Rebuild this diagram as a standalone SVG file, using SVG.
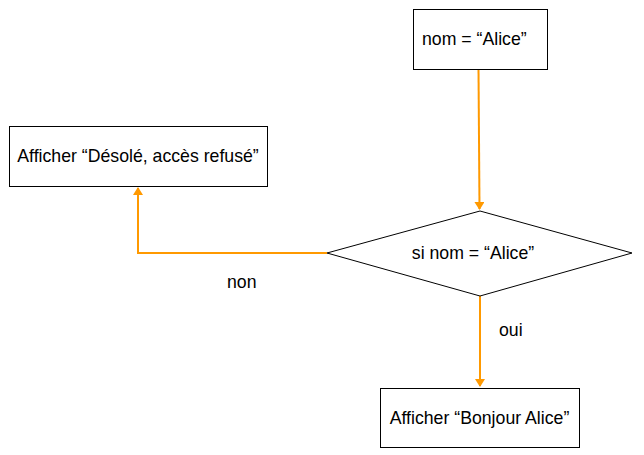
<svg xmlns="http://www.w3.org/2000/svg" width="644" height="455" viewBox="0 0 644 455">
<style>
.box{fill:#fff;stroke:#000;stroke-width:1}
.t{font-family:"Liberation Sans",Arial,sans-serif;font-size:17.7px;fill:#000}
.c{fill:none;stroke:#FF9900;stroke-width:2}
</style>
<defs>
<marker id="ah" markerWidth="8" markerHeight="10" refX="7" refY="5" orient="auto" markerUnits="userSpaceOnUse">
<path d="M0,0 L8,5 L0,10 Z" fill="#FF9900"/>
</marker>
</defs>
<rect width="644" height="455" fill="#fff"/>
<g id="connectors">
<path class="c" d="M478.5,69 L479.5,209" marker-end="url(#ah)"/>
<path class="c" d="M327,253 L138,253 L138,188" marker-end="url(#ah)"/>
<path class="c" d="M480,296 L480,386" marker-end="url(#ah)"/>
<text class="t" x="227" y="288">non</text>
<text class="t" x="499" y="336">oui</text>
</g>
<g id="n1">
<rect class="box" x="413.5" y="9.5" width="134" height="60"/>
<text class="t" x="422" y="45">nom = “Alice”</text>
</g>
<g id="n2">
<polygon class="box" points="480,211 632,253 480,296 327,253"/>
<text class="t" x="473" y="259" text-anchor="middle">si nom = “Alice”</text>
</g>
<g id="n3">
<rect class="box" x="9.5" y="126.5" width="258" height="60"/>
<text class="t" x="138" y="162" text-anchor="middle">Afficher “Désolé, accès refusé”</text>
</g>
<g id="n4">
<rect class="box" x="380.5" y="388.5" width="199" height="59"/>
<text class="t" x="479.5" y="424" text-anchor="middle">Afficher “Bonjour Alice”</text>
</g>
</svg>
